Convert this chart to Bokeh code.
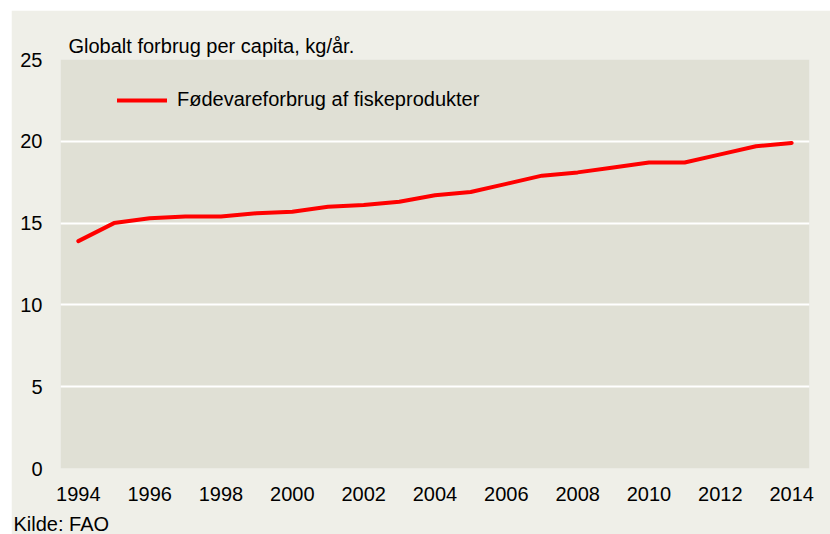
from bokeh.plotting import figure
from bokeh.models import Range1d, FixedTicker, Legend, LegendItem, Title
from bokeh.embed import file_html
from bokeh.resources import INLINE

# ---- data ----
years = [1994, 1995, 1996, 1997, 1998, 1999, 2000, 2001, 2002, 2003, 2004,
         2005, 2006, 2007, 2008, 2009, 2010, 2011, 2012, 2013, 2014]
consumption = [13.9, 15.0, 15.3, 15.4, 15.4, 15.6, 15.7, 16.0, 16.1, 16.3, 16.7,
               16.9, 17.4, 17.9, 18.1, 18.4, 18.7, 18.7, 19.2, 19.7, 19.9]
x_ticks = [1994, 1996, 1998, 2000, 2002, 2004, 2006, 2008, 2010, 2012, 2014]
y_ticks = [0, 5, 10, 15, 20, 25]
series_name = "Fødevareforbrug af fiskeprodukter"
title_text = "Globalt forbrug per capita, kg/år."
source_text = "Kilde: FAO"

FONT = "Liberation Sans"
OUTER = "#EFEFE8"
INNER = "#E0E0D5"

W, H = 819, 524
p = figure(width=W, height=H, output_backend="svg", toolbar_location=None,
           x_range=Range1d(1993.5, 2014.5), y_range=Range1d(0, 25),
           min_border_left=49, min_border_right=21, min_border_top=49,
           min_border_bottom=65)
p.margin = (10, 0, 0, 11)
p.background_fill_color = INNER
p.border_fill_color = OUTER
p.outline_line_color = None

p.title = Title(text=title_text, align="left", offset=8, standoff=6,
                text_font=FONT, text_font_size="20px", text_font_style="normal",
                text_color="#000000")

for ax in (p.xaxis[0], p.yaxis[0]):
    ax.axis_line_color = None
    ax.major_tick_line_color = None
    ax.minor_tick_line_color = None
    ax.major_label_text_font = FONT
    ax.major_label_text_font_size = "20px"
    ax.major_label_text_color = "#000000"

p.xaxis.ticker = FixedTicker(ticks=x_ticks)
p.yaxis.ticker = FixedTicker(ticks=y_ticks)
p.xaxis.major_label_standoff = 12
p.yaxis.major_label_standoff = 12

p.xgrid.grid_line_color = None
p.ygrid.grid_line_color = "#FFFFFF"
p.ygrid.grid_line_width = 2

r = p.line(years, consumption, line_color="#FF0000", line_width=4,
           line_join="round", line_cap="round")

legend = Legend(items=[LegendItem(label=series_name, renderers=[r])],
                location=(57, 357), padding=0, margin=0, spacing=0,
                glyph_width=50, glyph_height=20, label_standoff=10,
                label_text_font=FONT, label_text_font_size="20px",
                label_text_color="#000000",
                background_fill_alpha=0, border_line_color=None)
p.add_layout(legend)

spacer = Title(text=" ", standoff=0, text_font_size="4px", text_color=OUTER)
p.add_layout(spacer, "below")

src = Title(text=source_text, align="left", offset=-47, standoff=0,
            text_font=FONT, text_font_size="20px", text_font_style="normal",
            text_color="#000000")
p.add_layout(src, "below")

open("out.html", "w").write(file_html(p, INLINE))
